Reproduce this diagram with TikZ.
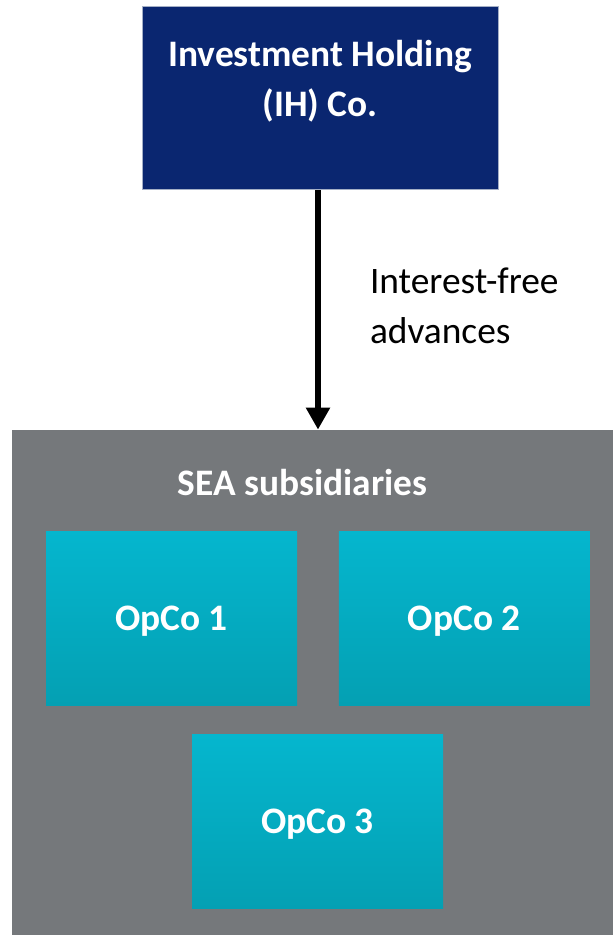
\documentclass[tikz,border=0pt]{standalone}
\usepackage{fontspec}
\setmainfont{Carlito}
\usetikzlibrary{arrows.meta,positioning}
\usepackage{xcolor}
\definecolor{ihnavy}{HTML}{0A2670}
\definecolor{ihedge}{HTML}{A4AFC6}
\definecolor{seagrey}{HTML}{75787B}
\definecolor{opctop}{HTML}{05B6CE}
\definecolor{opcbot}{HTML}{04A0B3}

\begin{document}
\begin{tikzpicture}[
  x=0.5pt, y=-0.5pt,
  font=\fontsize{18.7pt}{25pt}\selectfont,
  holdbox/.style={draw=ihedge,line width=0.5pt,fill=ihnavy,minimum width=178pt,minimum height=91.5pt,inner sep=0pt},
  groupbox/.style={fill=seagrey,minimum width=300.5pt,minimum height=252.5pt,inner sep=0pt},
  opcbox/.style={top color=opctop,bottom color=opcbot,minimum width=125.5pt,minimum height=87pt,
    inner sep=0pt,text=white,font=\fontsize{18.7pt}{25pt}\selectfont\bfseries,text depth=0pt},
  >={Triangle[width=11.5pt,length=11pt]}]
\useasboundingbox (0,0) rectangle (613,935);
\node[holdbox] (ih) at (320,98.5) {};
\node[anchor=north,align=center,inner sep=0pt,text=white,font=\fontsize{18.7pt}{25pt}\selectfont\bfseries]
  (ihname) at ([yshift=-16.5pt] ih.north) {Investment Holding\\(IH) Co.};
\node[groupbox] (sea) at (312.5,682.5) {};
\node[anchor=base,inner sep=0pt,text=white,font=\fontsize{18.7pt}{25pt}\selectfont\bfseries]
  (seaname) at (302.5,495) {SEA subsidiaries};
\node[opcbox] (opco1) at (171.5,618) {OpCo 1};
\node[opcbox,right=20.5pt of opco1] (opco2) {OpCo 2};
\node[opcbox] (opco3) at (317.5,821.5) {OpCo 3};
\draw[->,line width=3pt] ([xshift=-1pt] ih.south) -- ([xshift=-1pt] ih.south |- sea.north)
  node[pos=0.31,anchor=north west,xshift=24.5pt,align=left,inner sep=0pt] (adv) {Interest-free\\advances};
\end{tikzpicture}
\end{document}
